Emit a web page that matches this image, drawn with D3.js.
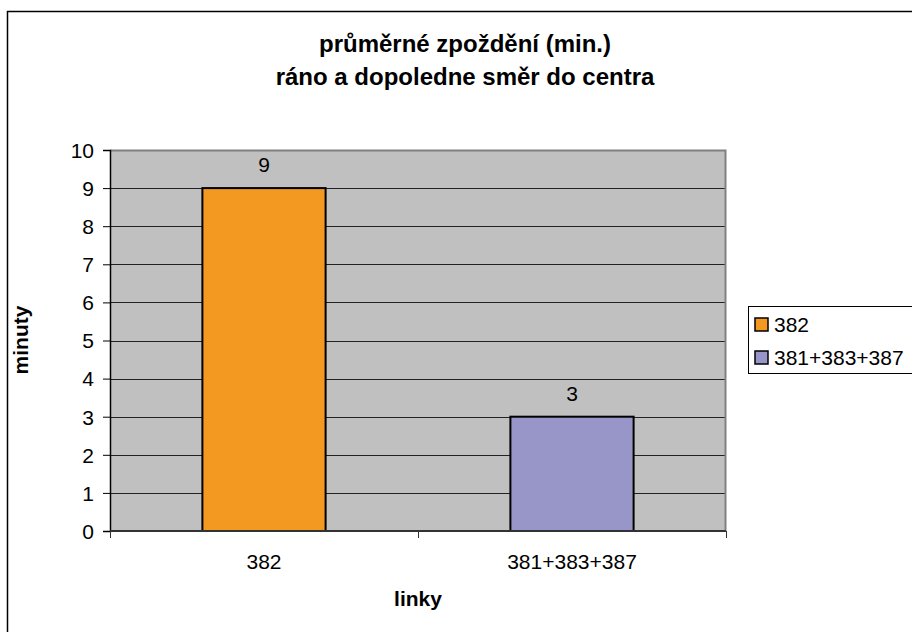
<!DOCTYPE html>
<html>
<head>
<meta charset="utf-8">
<script src="https://cdn.jsdelivr.net/npm/d3@7"></script>
<style>
  html, body { margin: 0; padding: 0; background: #fff; }
  svg { display: block; font-family: "Liberation Sans", Arial, sans-serif; }
</style>
</head>
<body>
<svg id="chart" width="912" height="632"></svg>
<script>
// Average delay per line group (minutes)
const categories = ["382", "381+383+387"];
const values = [9, 3];
const colors = ["#F39820", "#9896C8"];
const yTicks = [0, 1, 2, 3, 4, 5, 6, 7, 8, 9, 10];
const titleLines = ["průměrné zpoždění (min.)", "ráno a dopoledne směr do centra"];

const svg = d3.select("#chart");
const FONT = "Liberation Sans, Arial, sans-serif";

// outer chart frame
svg.append("rect")
  .attr("x", 7.5).attr("y", 11.5)
  .attr("width", 912).attr("height", 640)
  .attr("fill", "#fff").attr("stroke", "#000").attr("stroke-width", 1.5);

const plot = { left: 110, top: 150, right: 726, bottom: 531 };

const x = d3.scaleBand()
  .domain(categories)
  .range([plot.left, plot.right])
  .paddingInner(0.6).paddingOuter(0.3);

const xOuter = d3.scaleBand().domain(categories).range([plot.left, plot.right]);

const y = d3.scaleLinear().domain([0, 10]).range([plot.bottom, plot.top]);

// plot background
svg.append("rect")
  .attr("x", plot.left).attr("y", plot.top)
  .attr("width", plot.right - plot.left).attr("height", plot.bottom - plot.top)
  .attr("fill", "#C0C0C0");

// horizontal gridlines
svg.append("g").selectAll("line")
  .data(yTicks.filter(t => t > 0 && t < 10))
  .join("line")
  .attr("x1", plot.left).attr("x2", plot.right)
  .attr("y1", d => Math.round(y(d)) + 0.5).attr("y2", d => Math.round(y(d)) + 0.5)
  .attr("stroke", "#222").attr("stroke-width", 1);

// gray top and right edges of plot area
svg.append("path")
  .attr("d", `M${plot.left},${plot.top + 0.5}H${plot.right - 0.5}V${plot.bottom}`)
  .attr("fill", "none").attr("stroke", "#808080").attr("stroke-width", 2);

// bars
svg.append("g").selectAll("rect")
  .data(categories)
  .join("rect")
  .attr("x", d => x(d))
  .attr("width", x.bandwidth())
  .attr("y", (d, i) => y(values[i]))
  .attr("height", (d, i) => y(0) - y(values[i]))
  .attr("fill", (d, i) => colors[i])
  .attr("stroke", "#000").attr("stroke-width", 2);

// value labels
svg.append("g").selectAll("text")
  .data(categories)
  .join("text")
  .attr("x", d => x(d) + x.bandwidth() / 2)
  .attr("y", (d, i) => y(values[i]) - 16)
  .attr("text-anchor", "middle")
  .attr("font-size", 21)
  .text((d, i) => values[i]);

// y axis
const yAxis = svg.append("g")
  .attr("transform", `translate(${plot.left},0)`)
  .call(d3.axisLeft(y).tickValues(yTicks).tickSize(7).tickPadding(9).tickFormat(d3.format("d")));
yAxis.select(".domain").attr("stroke", "#000").attr("stroke-width", 1.5);
yAxis.selectAll(".tick line").attr("stroke", "#000");
yAxis.selectAll("text").attr("font-size", 21).attr("fill", "#000").attr("dy", "0.35em")
  .attr("font-family", FONT);

// x axis
const xAxisG = svg.append("g").attr("transform", `translate(0,${plot.bottom})`);
xAxisG.append("line")
  .attr("x1", plot.left).attr("x2", plot.right)
  .attr("stroke", "#333").attr("stroke-width", 2);
xAxisG.selectAll("line.tick")
  .data([plot.left, ...categories.map(c => xOuter(c) + xOuter.bandwidth())])
  .join("line").attr("class", "tick")
  .attr("x1", d => d + 0.5).attr("x2", d => d + 0.5)
  .attr("y1", 0).attr("y2", 7)
  .attr("stroke", "#333");
xAxisG.selectAll("text")
  .data(categories)
  .join("text")
  .attr("x", d => xOuter(d) + xOuter.bandwidth() / 2)
  .attr("y", 38)
  .attr("text-anchor", "middle")
  .attr("font-size", 21)
  .text(d => d);

// titles
svg.append("g").selectAll("text")
  .data(titleLines)
  .join("text")
  .attr("x", 465)
  .attr("y", (d, i) => 52 + i * 33)
  .attr("text-anchor", "middle")
  .attr("font-size", 24).attr("font-weight", "bold")
  .text(d => d);

svg.append("text")
  .attr("transform", "translate(28,340) rotate(-90)")
  .attr("text-anchor", "middle")
  .attr("font-size", 21).attr("font-weight", "bold")
  .text("minuty");

svg.append("text")
  .attr("x", 418).attr("y", 606)
  .attr("text-anchor", "middle")
  .attr("font-size", 21).attr("font-weight", "bold")
  .text("linky");

// legend
const legend = svg.append("g");
legend.append("rect")
  .attr("x", 748.5).attr("y", 306.5)
  .attr("width", 200).attr("height", 67)
  .attr("fill", "#fff").attr("stroke", "#000");
const items = legend.selectAll("g.item")
  .data(categories)
  .join("g").attr("class", "item")
  .attr("transform", (d, i) => `translate(755,${318 + i * 33})`);
items.append("rect")
  .attr("width", 13).attr("height", 13)
  .attr("fill", (d, i) => colors[i])
  .attr("stroke", "#000").attr("stroke-width", 1.5);
items.append("text")
  .attr("x", 19).attr("y", 14)
  .attr("font-size", 21)
  .text(d => d);
</script>
</body>
</html>
